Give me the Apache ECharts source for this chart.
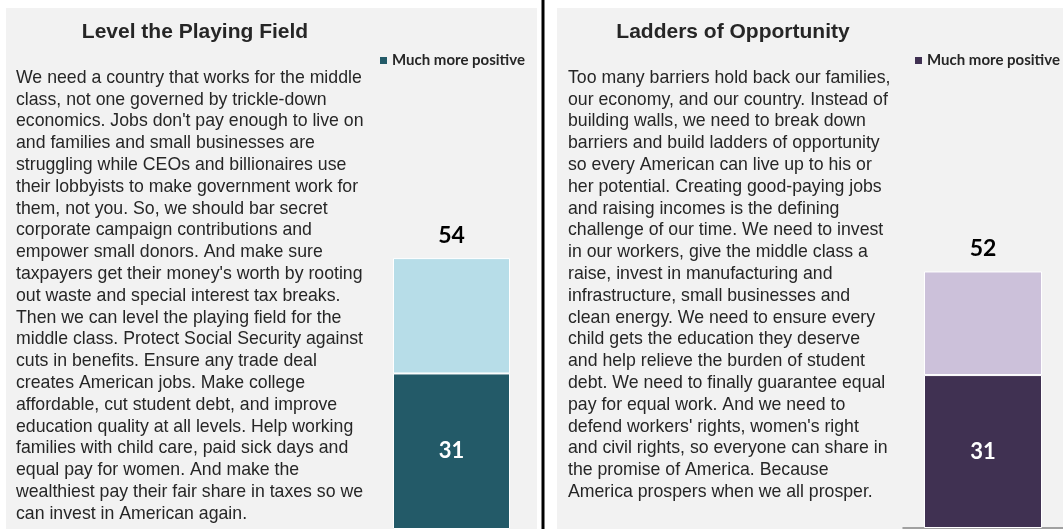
<!DOCTYPE html>
<html>
<head>
<meta charset="utf-8">
<script src="https://cdn.jsdelivr.net/npm/echarts@6/dist/echarts.min.js"></script>
<style>
  html, body { margin: 0; padding: 0; background: #ffffff; }
  #main { width: 1063px; height: 529px; }
</style>
</head>
<body>
<div id="main"></div>
<script>
// panel data
const panelTitles = ['Level the Playing Field', 'Ladders of Opportunity'];
const legendLabel = 'Much more positive';
const muchMorePositive = [31, 31];
const totalPositive = [54, 52];

const darkColors = ['#235a68', '#403152'];
const lightColors = ['#b7dde8', '#ccc1da'];

const leftLines = [
  'We need a country that works for the middle',
  'class, not one governed by trickle-down',
  'economics. Jobs don\'t pay enough to live on',
  'and families and small businesses are',
  'struggling while CEOs and billionaires use',
  'their lobbyists to make government work for',
  'them, not you. So, we should bar secret',
  'corporate campaign contributions and',
  'empower small donors. And make sure',
  'taxpayers get their money\'s worth by rooting',
  'out waste and special interest tax breaks.',
  'Then we can level the playing field for the',
  'middle class. Protect Social Security against',
  'cuts in benefits. Ensure any trade deal',
  'creates American jobs. Make college',
  'affordable, cut student debt, and improve',
  'education quality at all levels. Help working',
  'families with child care, paid sick days and',
  'equal pay for women. And make the',
  'wealthiest pay their fair share in taxes so we',
  'can invest in American again.'
];

const rightLines = [
  'Too many barriers hold back our families,',
  'our economy, and our country. Instead of',
  'building walls, we need to break down',
  'barriers and build ladders of opportunity',
  'so every American can live up to his or',
  'her potential. Creating good-paying jobs',
  'and raising incomes is the defining',
  'challenge of our time. We need to invest',
  'in our workers, give the middle class a',
  'raise, invest in manufacturing and',
  'infrastructure, small businesses and',
  'clean energy. We need to ensure every',
  'child gets the education they deserve',
  'and help relieve the burden of student',
  'debt. We need to finally guarantee equal',
  'pay for equal work. And we need to',
  'defend workers\' rights, women\'s right',
  'and civil rights, so everyone can share in',
  'the promise of America. Because',
  'America prospers when we all prosper.'
];

var chart = echarts.init(document.getElementById('main'), null, { renderer: 'canvas' });

var textFont = 'Liberation Sans, Arial, sans-serif';
var numFont = 'Lato, sans-serif';

function paragraph(lines, x) {
  return {
    type: 'text',
    x: x,
    y: 67,
    z: 5,
    style: {
      text: lines.join('\n'),
      font: '17.7px ' + textFont,
      fill: '#262626',
      lineHeight: 21.8,
      textVerticalAlign: 'top'
    }
  };
}

var grids = [
  { left: 366, width: 171, top: 228, height: 305 },
  { left: 903, width: 170, top: 232, height: 296 }
];

var series = [];
var legends = [];
for (var i = 0; i < 2; i++) {
  var darkName = legendLabel + '|' + i;
  series.push({
    type: 'bar',
    name: darkName,
    stack: 'p' + i,
    xAxisIndex: i,
    yAxisIndex: i,
    barWidth: i == 0 ? 117 : 118,
    data: [muchMorePositive[i]],
    itemStyle: { color: darkColors[i], borderColor: '#ffffff', borderWidth: 1 },
    label: {
      show: true,
      position: 'inside',
      color: '#ffffff',
      fontFamily: numFont,
      fontWeight: 'bold',
      fontSize: 22
    }
  });
  series.push({
    type: 'bar',
    name: 'rest|' + i,
    stack: 'p' + i,
    xAxisIndex: i,
    yAxisIndex: i,
    barWidth: i == 0 ? 117 : 118,
    data: [totalPositive[i] - muchMorePositive[i]],
    itemStyle: { color: lightColors[i], borderColor: '#ffffff', borderWidth: 1 },
    label: {
      show: true,
      position: 'top',
      distance: 11,
      color: '#000000',
      fontFamily: numFont,
      fontWeight: 'bold',
      fontSize: 23,
      formatter: (function (idx) { return function () { return String(totalPositive[idx]); }; })(i)
    }
  });
  legends.push({
    data: [darkName],
    left: i == 0 ? 380 : 915,
    top: 53,
    padding: 0,
    itemWidth: 7,
    itemHeight: 7,
    itemGap: 5,
    icon: 'rect',
    selectedMode: false,
    itemStyle: { color: darkColors[i], borderWidth: 0 },
    formatter: function (name) { return name.split('|')[0]; },
    textStyle: { fontFamily: numFont, fontWeight: 'bold', fontSize: 15, color: '#262626' }
  });
}

var option = {
  backgroundColor: '#ffffff',
  animation: false,
  title: [
    {
      text: panelTitles[0], left: 195, top: 22, padding: 0, textAlign: 'center',
      textStyle: { fontFamily: textFont, fontWeight: 'bold', fontSize: 21, color: '#262626' }
    },
    {
      text: panelTitles[1], left: 733, top: 22, padding: 0, textAlign: 'center',
      textStyle: { fontFamily: textFont, fontWeight: 'bold', fontSize: 21, color: '#262626' }
    }
  ],
  legend: legends,
  grid: grids,
  xAxis: [
    {
      type: 'category', gridIndex: 0, data: [panelTitles[0]],
      axisLine: { show: false }, axisTick: { show: false }, axisLabel: { show: false }
    },
    {
      type: 'category', gridIndex: 1, data: [panelTitles[1]],
      axisLine: { show: true, lineStyle: { color: '#868686', width: 1.5 } },
      axisTick: { show: false }, axisLabel: { show: false }
    }
  ],
  yAxis: [
    { type: 'value', gridIndex: 0, min: 0, max: 60, show: false, splitLine: { show: false } },
    { type: 'value', gridIndex: 1, min: 0, max: 60, show: false, splitLine: { show: false } }
  ],
  series: series,
  graphic: [
    { type: 'rect', z: 0, shape: { x: 6, y: 8, width: 531, height: 530 }, style: { fill: '#f2f2f2' } },
    { type: 'rect', z: 0, shape: { x: 557, y: 8, width: 520, height: 530 }, style: { fill: '#f2f2f2' } },
    { type: 'line', z: 1, shape: { x1: 543, y1: 0, x2: 543, y2: 529 }, style: { stroke: '#000000', lineWidth: 3 } },
    paragraph(leftLines, 16),
    paragraph(rightLines, 568)
  ]
};

chart.setOption(option);
</script>
</body>
</html>
